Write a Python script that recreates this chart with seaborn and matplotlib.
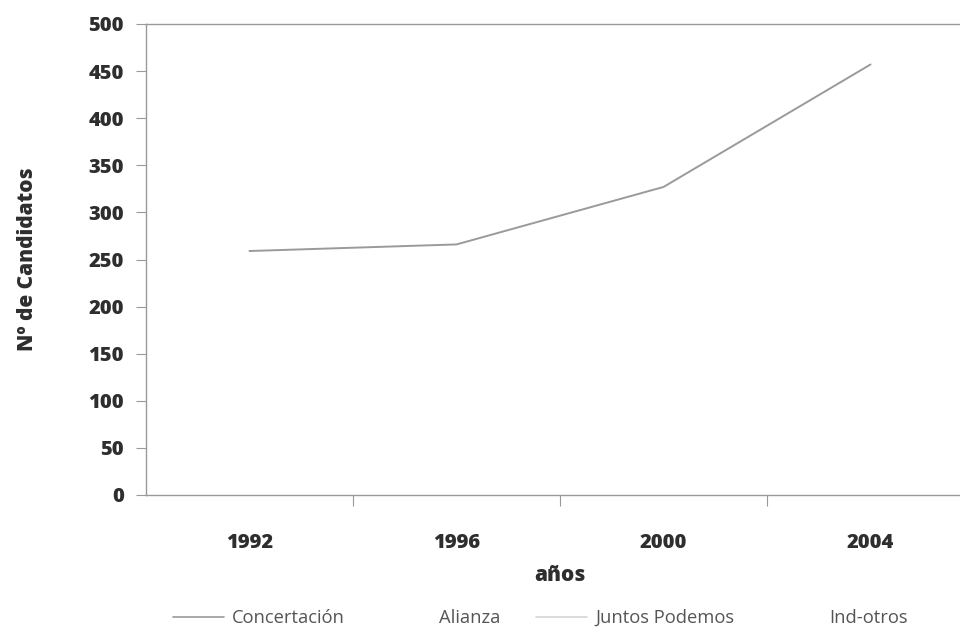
import matplotlib
matplotlib.use("Agg")
import matplotlib.pyplot as plt
from matplotlib.lines import Line2D
import seaborn as sns
import pandas as pd
import numpy as np

years = ["1992", "1996", "2000", "2004"]
concertacion = [259, 266, 327, 457]
series_names = ["Concertación", "Alianza", "Juntos Podemos", "Ind-otros"]
series_colors = ["#9a9a9a", "#ffffff", "#d6d6d6", "#ffffff"]
y_ticks = [0, 50, 100, 150, 200, 250, 300, 350, 400, 450, 500]

sns.set_theme(style="white")
plt.rcParams["font.family"] = ["Open Sans", "DejaVu Sans"]

df = pd.DataFrame({"año": np.arange(len(years)), "candidatos": concertacion})

fig = plt.figure(figsize=(9.6, 6.35), dpi=100)
ax = fig.add_axes([146 / 960, 1 - 495 / 635, (974 - 146) / 960, (495 - 24) / 635])

sns.lineplot(data=df, x="año", y="candidatos", ax=ax, color=series_colors[0],
             linewidth=1.4, legend=False)

ax.set_xlim(-0.5, len(years) - 0.5)
ax.set_ylim(0, 500)
ax.set_yticks(y_ticks)
ax.set_yticklabels([str(v) for v in y_ticks], fontsize=14.5, fontweight="heavy", color="#2e2e2e")
ax.tick_params(axis="y", direction="out", length=7, width=0.8, color="#999999", pad=9, left=True)

ax.set_xticks(np.arange(len(years)))
ax.set_xticklabels(years, fontsize=14.5, fontweight="heavy", color="#2e2e2e")
ax.tick_params(axis="x", which="major", length=0, pad=27)
ax.set_xticks(np.arange(len(years) - 1) + 0.5, minor=True)
ax.tick_params(axis="x", which="minor", direction="out", length=8, width=0.8,
               color="#999999", bottom=True)

for side in ["left", "bottom", "top"]:
    ax.spines[side].set_color("#999999")
    ax.spines[side].set_linewidth(1.0)
ax.spines["right"].set_visible(False)

ax.set_xlabel("años", fontsize=15, fontweight="heavy", color="#2e2e2e", labelpad=9)
ax.set_ylabel("Nº de Candidatos", fontsize=15, fontweight="heavy", color="#2e2e2e", labelpad=36)

handles = [Line2D([0], [0], color=c, linewidth=1.2) for c in series_colors]
fig.legend(handles, series_names, loc="center", bbox_to_anchor=(540 / 960, 1 - 618 / 635),
           ncol=4, frameon=False,
           prop={"family": ["Open Sans", "DejaVu Sans"], "size": 13.2},
           labelcolor="#555555",
           handlelength=2.8, handletextpad=0.45, columnspacing=1.9)

fig.savefig("out.png", dpi=100, facecolor="white")
